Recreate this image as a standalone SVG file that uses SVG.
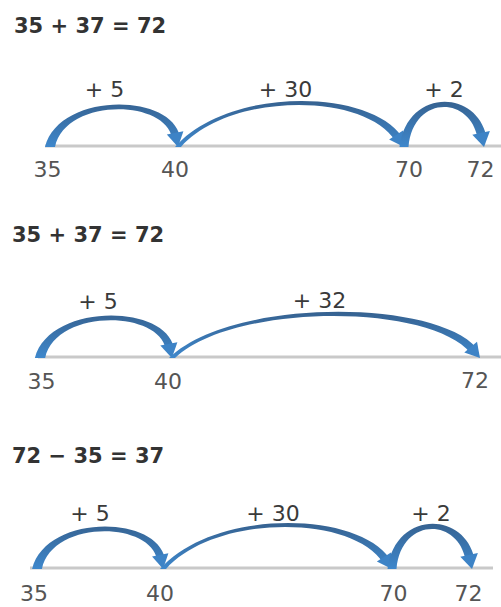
<svg xmlns="http://www.w3.org/2000/svg" xmlns:xlink="http://www.w3.org/1999/xlink" width="501" height="607" viewBox="0 0 501 607">
<style>
.title{font-family:"DejaVu Sans","Liberation Sans",sans-serif;font-weight:bold;font-size:21px;fill:#333}
.num{font-family:"DejaVu Sans","Liberation Sans",sans-serif;font-size:22px;fill:#555;text-anchor:middle}
.jump{font-family:"DejaVu Sans","Liberation Sans",sans-serif;font-size:22px;fill:#3a3a3a;text-anchor:middle}
.axis{stroke:#c9c9c9;stroke-width:3;fill:none}
.band{fill:url(#blue)}
.head{fill:#3d83c6}
</style>
<defs>
<linearGradient id="blue" gradientUnits="userSpaceOnUse" x1="0" y1="-46" x2="0" y2="2">
<stop offset="0" stop-color="#36618f"/>
<stop offset="1" stop-color="#3e88cd"/>
</linearGradient>
<g id="arcA">
<path class="band" d="M-5,1 C9,-53.7 120.4,-53.7 129.9,-9.6 L122.1,-8 C114.4,-47.7 15,-47.7 5,1 Z"/>
<path class="head" d="M116.8,-11.5 L133.4,-14.8 L128,1 Z"/>
</g>
<g id="arcB">
<path class="band" d="M-3,1 C48.5,-58.5 189.8,-58.5 223.8,-9.55 L217.2,-5.15 C186.8,-54 51.5,-54 3,1 Z"/>
<path class="head" d="M211.1,-6.4 L225,-15.6 L226,1 Z"/>
</g>
<g id="arcC">
<path class="band" d="M-4.5,1 C3,-57.3 71.8,-57.3 82.4,-9.7 L73.6,-7.9 C65.8,-50.7 9,-50.7 4.5,1 Z"/>
<path class="head" d="M68.3,-11.3 L85.9,-14.9 L80,1 Z"/>
</g>
<g id="arcD">
<path class="band" d="M-3,1 C58.5,-58.7 260.4,-58.7 304.5,-9.2 L298.5,-4 C257.4,-54.1 61.5,-54.1 3,1 Z"/>
<path class="head" d="M292.3,-4.5 L305,-15.2 L308,1 Z"/>
</g>
</defs>

<g id="eq1">
<text class="title" x="14" y="32.5">35 + 37 = 72</text>
<line class="axis" x1="45" y1="146" x2="501" y2="146"/>
<text class="num" x="47.5" y="177">35</text>
<text class="num" x="175" y="177">40</text>
<text class="num" x="409" y="177">70</text>
<text class="num" x="480.5" y="177">72</text>
<text class="jump" x="104.5" y="97">+ 5</text>
<text class="jump" x="285.5" y="97">+ 30</text>
<text class="jump" x="444" y="97">+ 2</text>
</g>
<g id="jumps1">
<use xlink:href="#arcA" transform="translate(50,146)"/>
<use xlink:href="#arcB" transform="translate(178,146)"/>
<use xlink:href="#arcC" transform="translate(404,146)"/>
</g>

<g id="eq2">
<text class="title" x="12" y="242">35 + 37 = 72</text>
<line class="axis" x1="38" y1="357" x2="501" y2="357"/>
<text class="num" x="41.5" y="389">35</text>
<text class="num" x="168" y="389">40</text>
<text class="num" x="475" y="388">72</text>
<text class="jump" x="98" y="309">+ 5</text>
<text class="jump" x="319.5" y="308">+ 32</text>
</g>
<g id="jumps2">
<use xlink:href="#arcA" transform="translate(40,357) scale(1.03,1)"/>
<use xlink:href="#arcD" transform="translate(172,357)"/>
</g>

<g id="eq3">
<text class="title" x="12" y="463">72 − 35 = 37</text>
<line class="axis" x1="30" y1="568" x2="493" y2="568"/>
<text class="num" x="34" y="601">35</text>
<text class="num" x="160" y="601">40</text>
<text class="num" x="393.5" y="601">70</text>
<text class="num" x="468.5" y="601">72</text>
<text class="jump" x="90" y="521">+ 5</text>
<text class="jump" x="273" y="521">+ 30</text>
<text class="jump" x="431" y="521">+ 2</text>
</g>
<g id="jumps3">
<use xlink:href="#arcA" transform="translate(37,568) scale(0.985,1)"/>
<use xlink:href="#arcB" transform="translate(163,568) scale(1.013,1)"/>
<use xlink:href="#arcC" transform="translate(392,568)"/>
</g>
</svg>
